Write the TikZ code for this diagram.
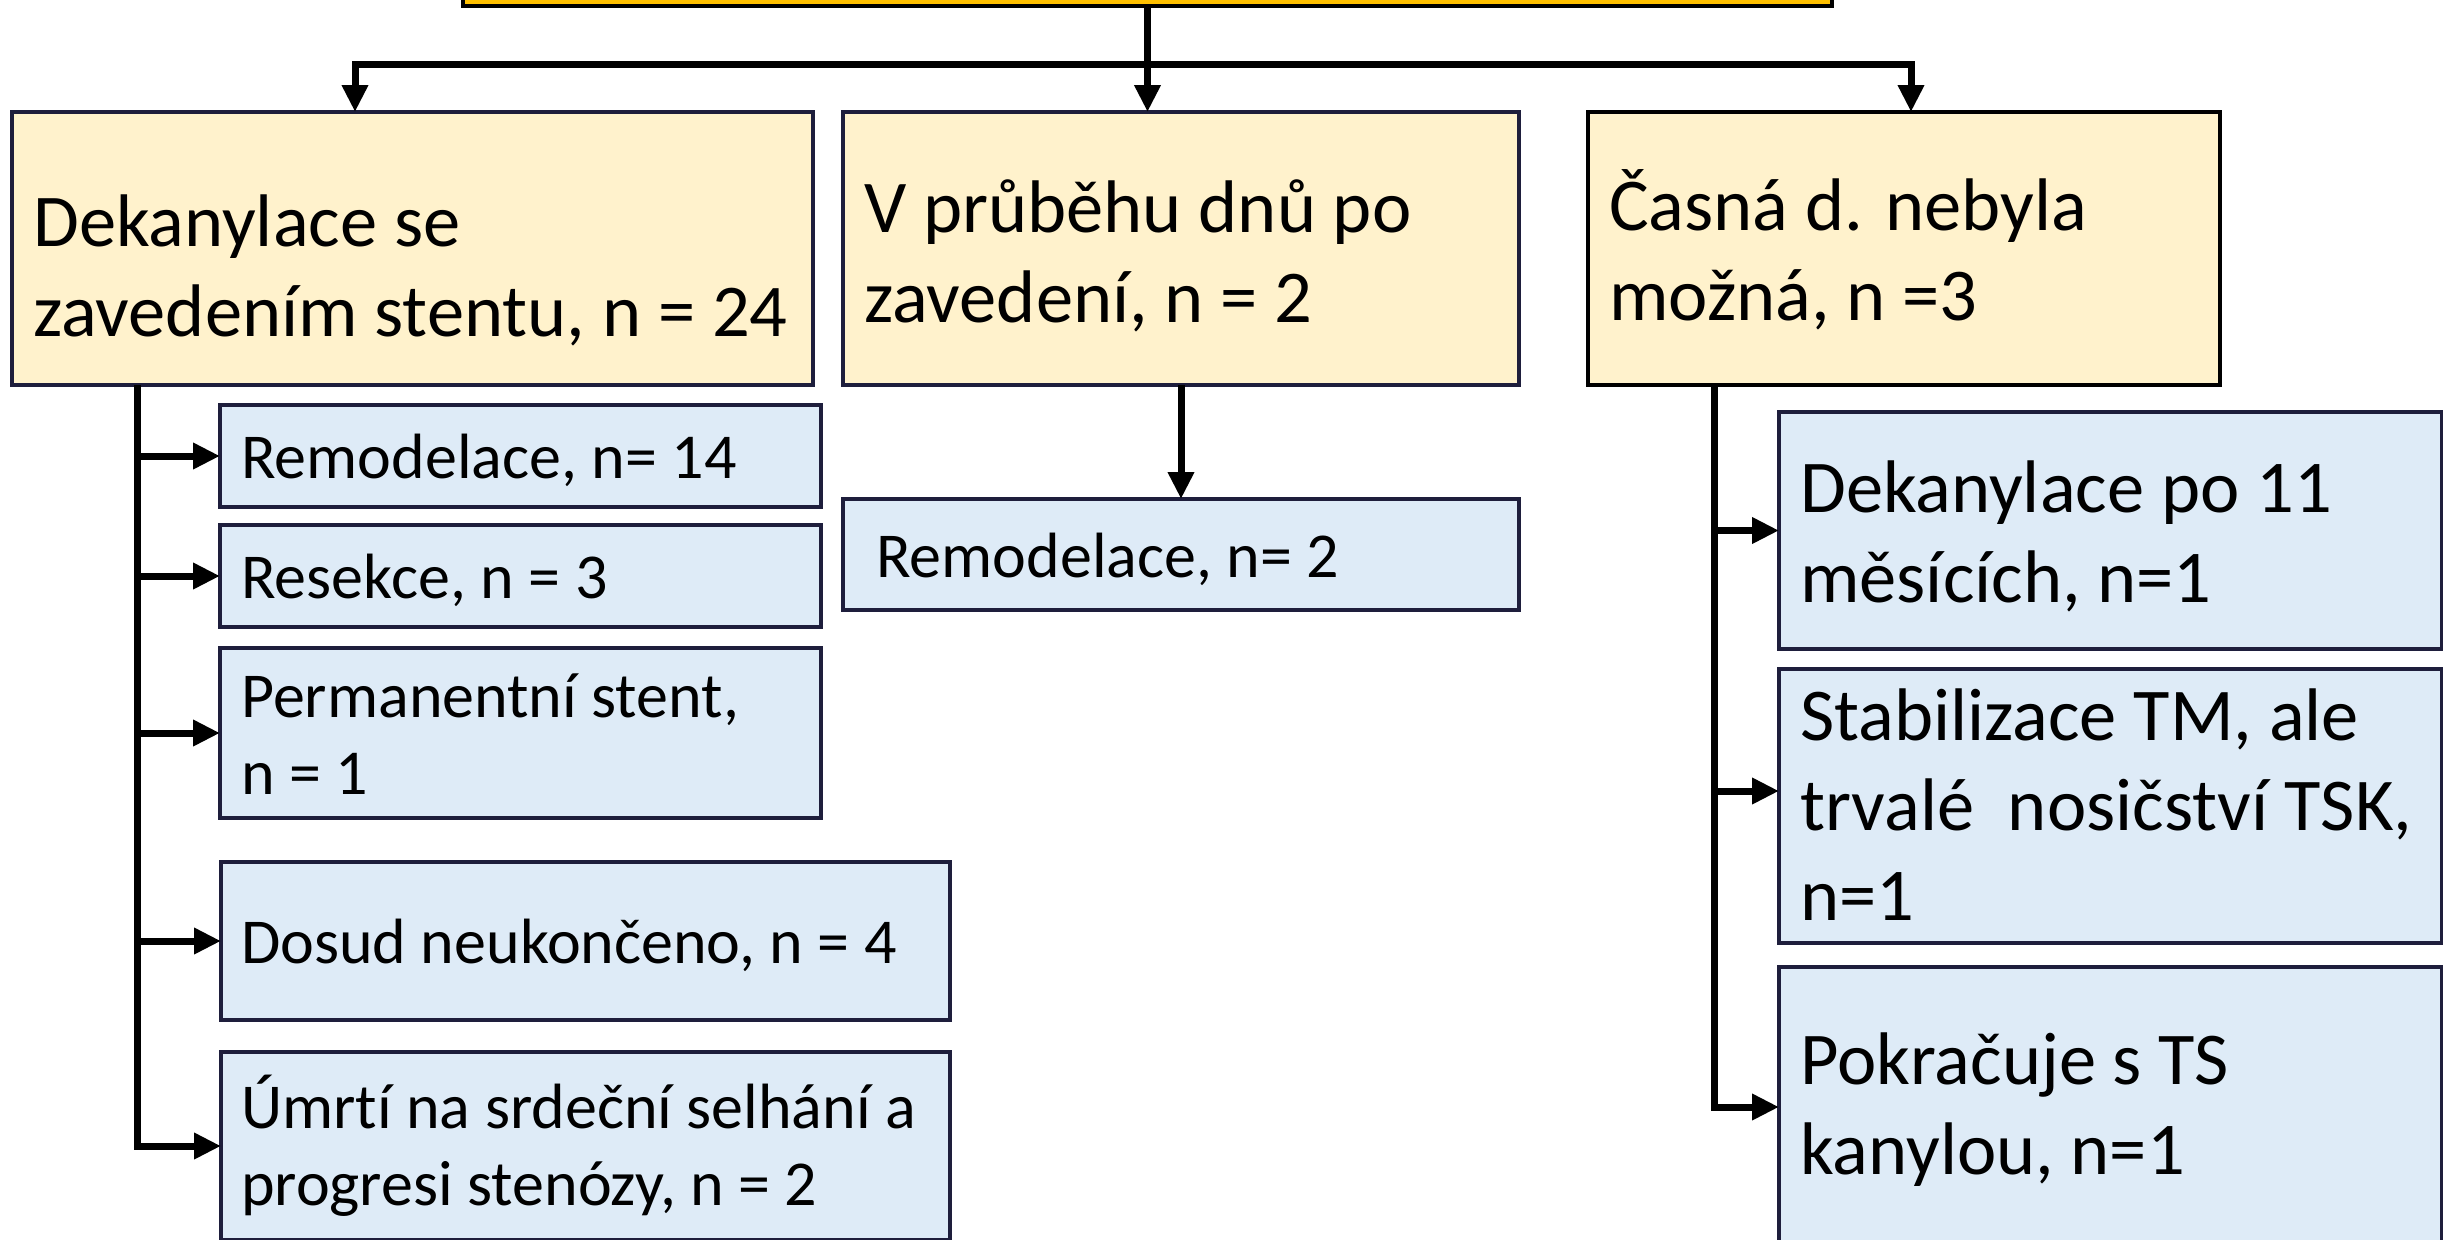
\documentclass[tikz,border=0pt]{standalone}
\usepackage{fontspec}
\setmainfont{Carlito}[Ligatures=NoCommon]
\usetikzlibrary{arrows.meta}
\definecolor{yel}{HTML}{FFF2CC}
\definecolor{blu}{HTML}{DEEBF7}
\definecolor{navy}{HTML}{1E1E3C}
\definecolor{orng}{HTML}{FFC000}
\newcommand\mytxt[1]{\parbox[t]{1200pt}{#1}}
\begin{document}
\begin{tikzpicture}[x=1pt,y=-1pt,
  boxshape/.style={draw=navy, line width=4pt, inner sep=0pt, outer sep=0pt, anchor=north west, rectangle},
  ybox/.style={boxshape, fill=yel},
  bbox/.style={boxshape, fill=blu},
  conn/.style={line width=7pt, black, line join=miter},
  arr/.style={conn, -{Triangle[length=27pt,width=25pt]}},
  bigtxt/.style={inner sep=0pt, anchor=base west, font=\fontsize{74.5}{90}\selectfont},
  smalltxt/.style={inner sep=0pt, anchor=base west, font=\fontsize{64}{77}\selectfont}
]
\clip (0,0) rectangle (2443,1239);
\fill[white] (0,0) rectangle (2443,1239);

% top box
\node[boxshape, fill=orng, draw=black, minimum width=1369pt, minimum height=66pt] (T) at (463,-60) {};

% level 2
\node[ybox, minimum width=801pt, minimum height=273pt] (A) at (12,112) {};
\node[ybox, minimum width=676pt, minimum height=273pt] (B) at (843,112) {};
\node[ybox, draw=black, minimum width=632pt, minimum height=273pt] (C) at (1588,112) {};

% left column
\node[bbox, minimum width=601pt, minimum height=102pt] (R14) at (220,405) {};
\node[bbox, minimum width=601pt, minimum height=102pt] (Res) at (220,525) {};
\node[bbox, minimum width=601pt, minimum height=170pt] (Perm) at (220,648) {};
\node[bbox, minimum width=729pt, minimum height=158pt] (Dos) at (221,862) {};
\node[bbox, minimum width=729pt, minimum height=188pt] (Umr) at (221,1052) {};

% middle
\node[bbox, minimum width=676pt, minimum height=111pt] (R2) at (843,499) {};

% right column
\node[bbox, minimum width=663pt, minimum height=237pt] (D11) at (1779,412) {};
\node[bbox, minimum width=663pt, minimum height=274pt] (Stab) at (1779,669) {};
\node[bbox, minimum width=663pt, minimum height=280pt] (Pok) at (1779,967) {};

% texts
\node[bigtxt] (At) at (33,246) {\mytxt{Dekanylace se\\zavedením stentu, n = 24}};
\node[bigtxt] (Bt) at (864,232) {\mytxt{V průběhu dnů po\\zavedení, n = 2}};
\node[bigtxt] (Ct) at (1609,230) {\mytxt{Časná d. nebyla\\možná, n =3}};
\node[smalltxt] (R14t) at (241,478) {\mytxt{Remodelace, n= 14}};
\node[smalltxt] (Rest) at (241,598) {\mytxt{Resekce, n = 3}};
\node[smalltxt] (Permt) at (241,717) {\mytxt{Permanentní stent,\\n = 1}};
\node[smalltxt] (Dost) at (241,963) {\mytxt{Dosud neukončeno, n = 4}};
\node[smalltxt] (Umrt) at (241,1128) {\mytxt{Úmrtí na srdeční selhání a\\progresi stenózy, n = 2}};
\node[smalltxt] (R2t) at (876,577) {\mytxt{Remodelace, n= 2}};
\node[bigtxt] (D11t) at (1800,512) {\mytxt{Dekanylace po 11\\měsících, n=1}};
\node[bigtxt] (Stabt) at (1800,740) {\mytxt{Stabilizace TM, ale\\trvalé\ \ nosičství TSK,\\n=1}};
\node[bigtxt] (Pokt) at (1800,1084) {\mytxt{Pokračuje s TS\\kanylou, n=1}};

% connectors top
\coordinate (hl) at (355,65);
\coordinate (hr) at (1911,65);
\draw[arr] (T.south) |- (hl) -- (hl |- A.north);
\draw[arr] (T.south) |- (hr) -- (hr |- C.north);
\draw[arr] (T.south) -- (T.south |- B.north);

% middle
\draw[arr] (B.south) -- (B.south |- R2.north);

% left trunk
\coordinate (lt) at (137,0);
\draw[arr] (A.south -| lt) |- (Umr.west);
\draw[arr] (lt |- R14.west) -- (R14.west);
\draw[arr] (lt |- Res.west) -- (Res.west);
\draw[arr] (lt |- Perm.west) -- (Perm.west);
\draw[arr] (lt |- Dos.west) -- (Dos.west);

% right trunk
\coordinate (rt) at (1714,0);
\coordinate (sa) at (1714,791);
\draw[arr] (C.south -| rt) |- (Pok.west);
\draw[arr] (rt |- D11.west) -- (D11.west);
\draw[arr] (sa) -- (sa -| Stab.west);
\end{tikzpicture}
\end{document}
